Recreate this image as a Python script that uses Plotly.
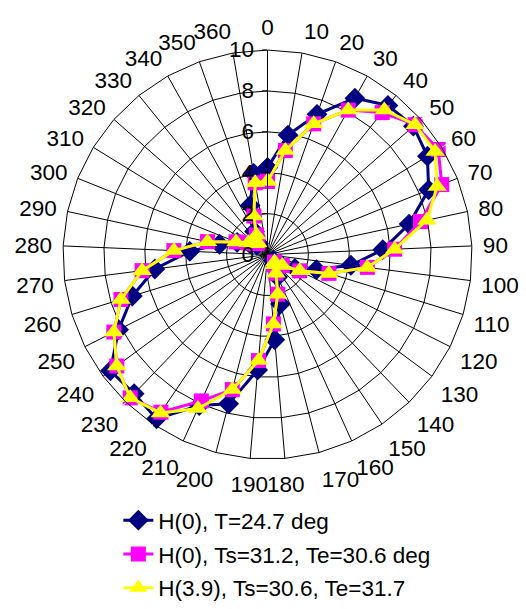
import plotly.graph_objects as go

categories = ["0", "10", "20", "30", "40", "50", "60", "70", "80", "90",
              "100", "110", "120", "130", "140", "150", "160", "170", "180", "190",
              "200", "210", "220", "230", "240", "250", "260", "270", "280", "290",
              "300", "310", "320", "330", "340", "350", "360"]

h0_t247 = [4.25, 5.93, 7.27, 8.76, 9.37, 9.5, 9.18, 8.49, 7.08, 5.64,
           4.11, 2.5, 1.5, 0.8, 0.4, 0.6, 1.2, 2.5, 4.18, 5.66,
           7.54, 8.1, 9.69, 9.42, 9.55, 8.15, 6.91, 5.55, 3.8, 2.4,
           1.6, 1.0, 0.7, 0.7, 1.3, 2.55, 4.03]

h0_ts312 = [3.58, 5.16, 6.78, 8.09, 8.92, 9.61, 9.8, 9.18, 7.65, 6.22,
            4.92, 3.14, 1.76, 0.9, 0.5, 0.6, 1.0, 2.0, 3.4, 5.2,
            6.82, 7.85, 9.3, 9.7, 9.16, 8.41, 7.49, 6.18, 4.58, 3.0,
            1.66, 1.1, 0.8, 0.75, 1.1, 2.0, 3.56]

h39_ts306 = [3.58, 5.16, 6.78, 8.09, 9.09, 9.61, 9.62, 8.94, 7.97, 6.22,
             4.92, 3.14, 1.76, 0.9, 0.5, 0.6, 1.0, 2.0, 3.4, 5.2,
             6.82, 8.26, 9.34, 9.7, 9.16, 8.41, 7.49, 6.18, 4.58, 3.0,
             1.66, 1.1, 0.8, 0.75, 1.1, 2.0, 3.56]

series_names = ["H(0), T=24.7 deg",
                "H(0), Ts=31.2, Te=30.6 deg",
                "H(3.9), Ts=30.6, Te=31.7"]

radial_ticks = [0, 2, 4, 6, 8, 10]

FONT = "Liberation Sans, Arial, sans-serif"

def closed(vals):
    return list(vals) + [vals[0]]

fig = go.Figure()
styles = [
    dict(color="#000080", symbol="diamond", size=16, width=3),
    dict(color="#FF00FF", symbol="square", size=15, width=3),
    dict(color="#FFFF00", symbol="triangle-up", size=17, width=3),
]
for i, (vals, name, st) in enumerate(zip([h0_t247, h0_ts312, h39_ts306], series_names, styles)):
    fig.add_trace(go.Scatterpolar(
        r=closed(vals), theta=closed(categories), name=name,
        legendgroup="g%d" % i,
        mode="lines+markers",
        line=dict(color=st["color"], width=st["width"]),
        marker=dict(symbol=st["symbol"], size=st["size"], color=st["color"],
                    line=dict(width=0)),
    ))

fig.update_layout(
    width=526, height=609,
    margin=dict(l=0, r=0, t=0, b=0),
    paper_bgcolor="white",
    font=dict(family=FONT, size=22.5, color="black"),
    polar=dict(
        domain=dict(x=[0.1036, 0.9135], y=[0.2151, 0.9145]),
        bgcolor="white",
        gridshape="linear",
        angularaxis=dict(
            type="category",
            categoryarray=categories,
            direction="clockwise",
            rotation=90,
            showgrid=True, gridcolor="black", gridwidth=1,
            showline=True, linecolor="black", linewidth=1,
            ticks="outside", ticklen=6, tickcolor="white",
            tickfont=dict(family=FONT, size=22.5, color="black"),
        ),
        radialaxis=dict(
            range=[0, 10],
            tickvals=radial_ticks,
            ticktext=[str(v) for v in radial_ticks],
            angle=90,
            tickangle=90,
            side="counterclockwise",
            showgrid=True, gridcolor="black", gridwidth=1,
            showline=True, linecolor="black", linewidth=1,
            ticks="outside", ticklen=5, tickcolor="black", tickwidth=1,
            tickfont=dict(family=FONT, size=22.5, color="black"),
        ),
    ),
    legend=dict(
        x=0.225, y=0.147, xanchor="left", yanchor="top",
        font=dict(family=FONT, size=22.5, color="black"),
        bgcolor="rgba(0,0,0,0)",
        tracegroupgap=1.5,
    ),
    showlegend=True,
)

fig.write_html("out.html")
